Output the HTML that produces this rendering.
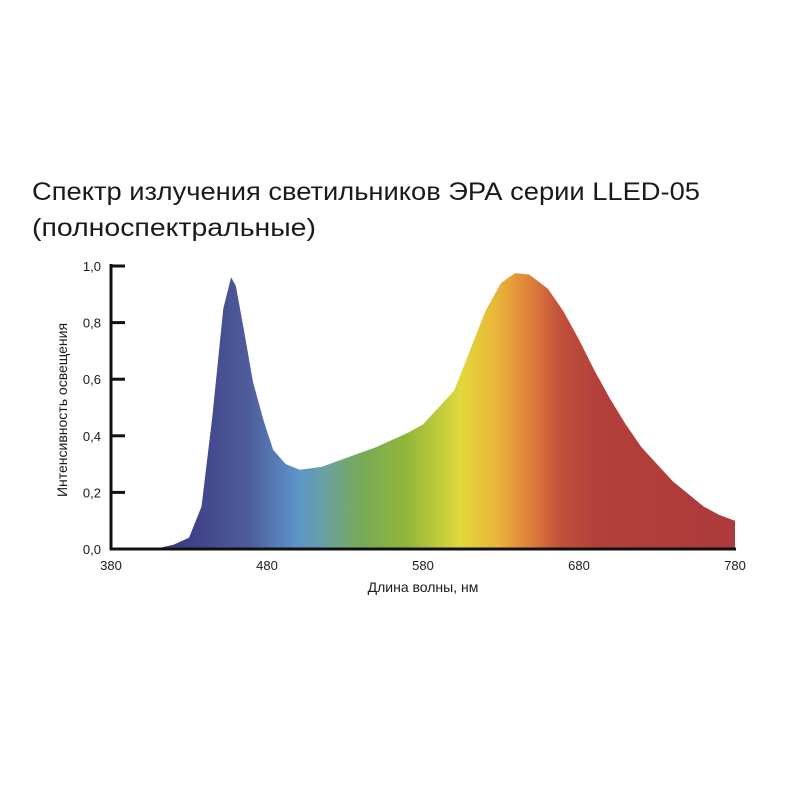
<!DOCTYPE html>
<html><head><meta charset="utf-8"><style>body{margin:0;background:#fff}svg{display:block}text{font-family:"Liberation Sans","DejaVu Sans",sans-serif;fill:#1a1a1a}</style></head>
<body>
<svg id="chart" width="800" height="800" viewBox="0 0 800 800">
<defs><linearGradient id="spec" gradientUnits="userSpaceOnUse" x1="111" x2="735" y1="0" y2="0">
<stop offset="0" stop-color="#34346e"/>
<stop offset="0.11" stop-color="#3b3d82"/>
<stop offset="0.22" stop-color="#4f5c9c"/>
<stop offset="0.3" stop-color="#5c95c8"/>
<stop offset="0.34" stop-color="#68a0a4"/>
<stop offset="0.4" stop-color="#76aa58"/>
<stop offset="0.47" stop-color="#8fb53a"/>
<stop offset="0.52" stop-color="#b9c83a"/>
<stop offset="0.56" stop-color="#e2d83c"/>
<stop offset="0.62" stop-color="#e9b43a"/>
<stop offset="0.67" stop-color="#df813a"/>
<stop offset="0.72" stop-color="#c2503a"/>
<stop offset="0.78" stop-color="#b3403a"/>
<stop offset="1" stop-color="#ad3a3c"/>
</linearGradient></defs>
<text x="32" y="200" font-size="25" textLength="668" lengthAdjust="spacingAndGlyphs">Спектр излучения светильников ЭРА серии LLED-05</text>
<text x="32" y="236" font-size="25" textLength="284" lengthAdjust="spacingAndGlyphs">(полноспектральные)</text>
<g id="plot"></g>
<text x="423" y="592" font-size="14" text-anchor="middle">Длина волны, нм</text>
<text transform="translate(67,410) rotate(-90)" font-size="14" text-anchor="middle">Интенсивность освещения</text>
</svg>
<script>
const wavelengths=[380,400,410,420,430,438,445,452,457,460,465,471,478,484,492,501,515,530,550,570,580,590,600,610,620,630,639,648,660,670,680,690,700,710,720,740,760,770,780];
const intensity=[0,0,0.003,0.015,0.04,0.15,0.47,0.85,0.96,0.93,0.78,0.59,0.45,0.35,0.3,0.28,0.29,0.32,0.36,0.41,0.44,0.5,0.56,0.7,0.84,0.94,0.975,0.97,0.92,0.84,0.74,0.63,0.53,0.44,0.36,0.24,0.15,0.12,0.1];
const xTicks=[380,480,580,680,780];
const yTicks=[0,0.2,0.4,0.6,0.8,1.0];
const ns='http://www.w3.org/2000/svg';
const x=v=>111+(v-380)*1.56;
const y=v=>549-v*283;
const g=document.getElementById('plot');
function mk(t,a){const e=document.createElementNS(ns,t);for(const k in a)e.setAttribute(k,a[k]);g.appendChild(e);return e;}
let d='M'+x(wavelengths[0])+','+y(0);
wavelengths.forEach((w,i)=>{d+=' L'+x(w).toFixed(1)+','+y(intensity[i]).toFixed(1);});
d+=' L'+x(wavelengths[wavelengths.length-1])+','+y(0)+' Z';
const area=mk('path',{d:d,fill:'url(#spec)','stroke-linejoin':'round'});


const ya=mk('line',{x1:111,y1:264,x2:111,y2:550,stroke:'#111','stroke-width':3});


const xa=mk('line',{x1:110,y1:549,x2:736,y2:549,stroke:'#111','stroke-width':3});


yTicks.forEach(v=>{
 const t=mk('line',{x1:111,x2:125,y1:y(v),y2:y(v),stroke:'#111','stroke-width':3});
 
 
 const l=mk('text',{x:101,y:y(v)+5,'font-size':13,'text-anchor':'end'});
 l.textContent=v.toFixed(1).replace('.',',');
 
 
});
xTicks.forEach(v=>{
 const l=mk('text',{x:x(v),y:570,'font-size':13,'text-anchor':'middle'});
 l.textContent=v;
 
 
});
</script>
</body></html>
